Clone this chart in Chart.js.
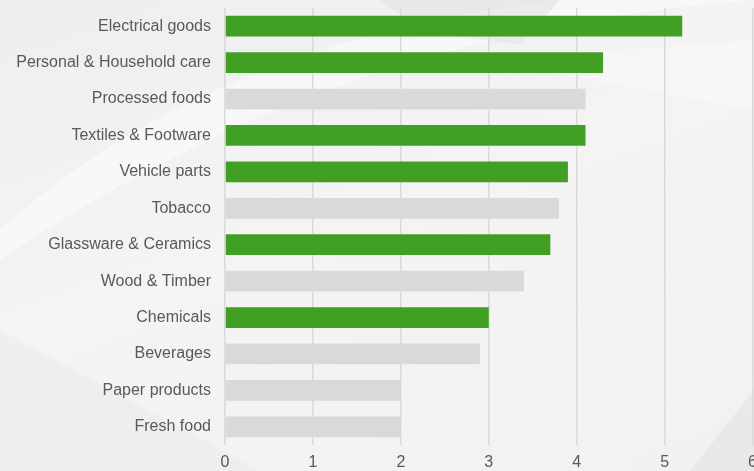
<!DOCTYPE html>
<html>
<head>
<meta charset="utf-8">
<script src="https://cdn.jsdelivr.net/npm/chart.js@4"></script>
<style>
    html, body { margin: 0; padding: 0; width: 754px; height: 471px; overflow: hidden; }
    body { background: linear-gradient(160deg, #eeeeee 0%, #f4f4f4 45%, #f1f1f1 100%); position: relative; }
    #fondo { position: absolute; left: 0; top: 0; }
    #contenedor { position: absolute; left: 0; top: 0; width: 757px; height: 471px; }
</style>
</head>
<body>
<svg id="fondo" width="754" height="471">
    <path d="M0,230 C120,120 300,30 560,0 L754,0 L754,0 C500,20 250,90 0,260 Z" fill="#ffffff" opacity="0.45"/>
    <path d="M380,0 L560,0 L520,45 L420,30 Z" fill="#e2e2e0" opacity="0.6"/>
    <path d="M480,60 L754,110 L754,40 Z" fill="#ffffff" opacity="0.3"/>
    <path d="M690,471 L754,390 L754,471 Z" fill="#e6e6e6" opacity="0.8"/>
    <path d="M0,330 L0,471 L260,471 Z" fill="#ebebeb" opacity="0.6"/>
</svg>
<div id="contenedor"><canvas id="graficoSectores"></canvas></div>
<script>
const categorias = [
    'Electrical goods', 'Personal & Household care', 'Processed foods', 'Textiles & Footware',
    'Vehicle parts', 'Tobacco', 'Glassware & Ceramics', 'Wood & Timber',
    'Chemicals', 'Beverages', 'Paper products', 'Fresh food'
];
const valores = [5.2, 4.3, 4.1, 4.1, 3.9, 3.8, 3.7, 3.4, 3.0, 2.9, 2.0, 2.0];
const destacados = [true, true, false, true, true, false, true, false, true, false, false, false];
const ticksX = [0, 1, 2, 3, 4, 5, 6];

const verde = '#41a023';
const gris = '#d9d9d9';

Chart.defaults.font.family = '"Liberation Sans", Arial, sans-serif';
Chart.defaults.font.size = 16;
Chart.defaults.color = '#595959';

const ctx = document.getElementById('graficoSectores');

new Chart(ctx, {
    type: 'bar',
    data: {
        labels: categorias,
        datasets: [{
            data: valores,
            backgroundColor: destacados.map(d => d ? verde : gris),
            borderWidth: 0,
            barPercentage: 0.57,
            categoryPercentage: 1
        }]
    },
    options: {
        indexAxis: 'y',
        responsive: true,
        maintainAspectRatio: false,
        animation: false,
        layout: { padding: 0 },
        plugins: {
            legend: { display: false },
            tooltip: { enabled: false }
        },
        scales: {
            x: {
                min: 0,
                max: 6,
                afterBuildTicks: (scale) => {
                    scale.ticks = ticksX.map(v => ({ value: v }));
                },
                grid: { color: '#d9d9d9', lineWidth: 1.5, drawTicks: true, tickLength: 10, tickColor: 'rgba(0,0,0,0)' },
                border: { display: false },
                ticks: { padding: 0, font: { size: 16, lineHeight: 1 } }
            },
            y: {
                afterFit: (scale) => { scale.width = 225; },
                grid: { display: false, drawTicks: true, tickLength: 14 },
                border: { display: false },
                ticks: { padding: 0, font: { size: 16, lineHeight: 1 } }
            }
        }
    }
});
</script>
</body>
</html>
